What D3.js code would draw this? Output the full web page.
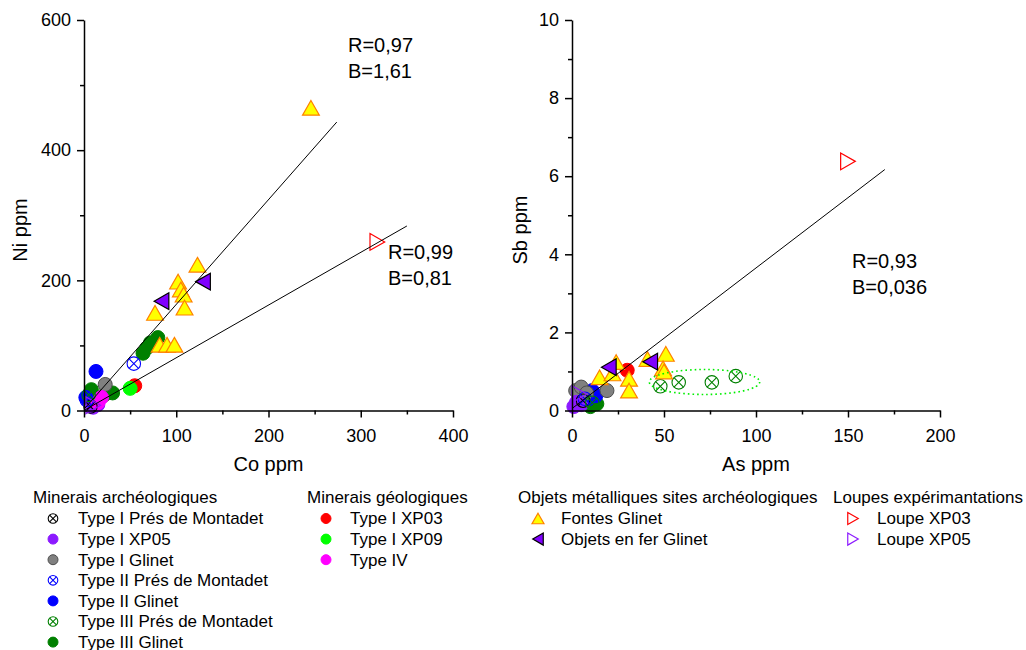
<!DOCTYPE html>
<html><head><meta charset="utf-8">
<script src="https://cdn.jsdelivr.net/npm/d3@7"></script>
<style>
body{margin:0;background:#fff}
text{font-family:"Liberation Sans",Arial,Helvetica,sans-serif;fill:#000}
</style>
</head><body>
<svg id="chart" width="1026" height="650"></svg>
<script>
// ---------------- DATA ----------------
// Axis ticks
const coTicks = [0, 100, 200, 300, 400];
const coMinor = [50, 150, 250, 350];
const niTicks = [0, 200, 400, 600];
const niMinor = [100, 300, 500];
const asTicks = [0, 50, 100, 150, 200];
const asMinor = [25, 75, 125, 175];
const sbTicks = [0, 2, 4, 6, 8, 10];
const sbMinor = [1, 3, 5, 7, 9];

// Series names
const seriesNames = ["Type I Prés de Montadet","Type I XP05","Type I Glinet","Type II Prés de Montadet",
  "Type II Glinet","Type III Prés de Montadet","Type III Glinet","Type I XP03","Type I XP09","Type IV",
  "Fontes Glinet","Objets en fer Glinet","Loupe XP03","Loupe XP05"];

// Legend groups
const legendTitles = ["Minerais archéologiques","Minerais géologiques","Objets métalliques sites archéologiques","Loupes expérimantations"];
const legendGroup1 = ["Type I Prés de Montadet","Type I XP05","Type I Glinet","Type II Prés de Montadet","Type II Glinet","Type III Prés de Montadet","Type III Glinet"];
const legendGroup2 = ["Type I XP03","Type I XP09","Type IV"];
const legendGroup3 = ["Fontes Glinet","Objets en fer Glinet"];
const legendGroup4 = ["Loupe XP03","Loupe XP05"];

// Co (x) vs Ni (y) values, per series
const typeIPresCoNi   = [[7, 6]];
const typeIXP05CoNi   = [[15, 9], [10, 5]];
const typeIGlinetCoNi = [[23, 40]];
const typeIIPresCoNi  = [[54, 72], [3, 16]];
const typeIIGlinetCoNi= [[13, 60], [2, 20]];
const typeIIIPresCoNi = [[5, 24]];
const typeIIIGlinetCoNi = [[80, 112], [72, 104], [68, 96], [64, 88], [8, 32], [31, 27], [22, 24]];
const typeIXP03CoNi   = [[55, 38]];
const typeIXP09CoNi   = [[50, 34]];
const typeIVCoNi      = [[19, 20], [15, 12]];
const fontesCoNi      = [[246, 465], [123, 224], [102, 198], [105, 186], [108, 178], [109, 158], [77, 150], [82, 101], [90, 101], [98, 101]];
const objetsCoNi      = [[129, 198], [84, 168]];
const loupeXP03CoNi   = [[318, 259]];
const loupeXP05CoNi   = [[10, 8]];

// As (x) vs Sb (y) values, per series
const typeIPresAsSb   = [[6, 0.25]];
const typeIXP05AsSb   = [[2.5, 0.21], [1, 0.1], [5, 0.15]];
const typeIGlinetAsSb = [[2, 0.51], [5, 0.6], [19, 0.51], [8, 0.45]];
const typeIIPresAsSb  = [[7, 0.3]];
const typeIIGlinetAsSb= [[11, 0.51], [13, 0.38], [9, 0.3]];
const typeIIIPresAsSb = [[48, 0.62], [58, 0.72], [76, 0.72], [89, 0.88], [11, 0.2]];
const typeIIIGlinetAsSb = [[13.5, 0.17], [10, 0.1]];
const typeIXP03AsSb   = [[30, 1.03]];
const typeIXP09AsSb   = [];
const typeIVAsSb      = [];
const fontesAsSb      = [[15, 0.85], [22, 0.95], [24, 1.24], [31, 0.81], [31, 0.51], [41, 1.32], [51, 1.45], [49.5, 1.08], [50, 1.0]];
const objetsAsSb      = [[20, 1.11], [42.5, 1.25]];
const loupeXP03AsSb   = [[150, 6.38]];
const loupeXP05AsSb   = [[4, 0.42]];

// Regression lines: [slope, intercept, xEnd]
const regCoNiSteep = [1.61, 2, 274];
const regCoNiFlat  = [0.81, 0, 350];
const regAsSb      = [0.036, 0.05, 170];
// Ellipse around Type III Prés de Montadet (As/Sb): [cx, cy, rx, ry]
const ellipseAsSb = [72, 0.73, 30, 0.32];

// Annotations
const annotCoNi = [["R=0,97","B=1,61"],["R=0,99","B=0,81"]];
const annotAsSb = [["R=0,93","B=0,036"]];

// ---------------- STYLES ----------------
const sty = {
  "Type I Prés de Montadet": {shape:"cross", stroke:"#000"},
  "Type I XP05": {shape:"circle", fill:"#8c1aff", stroke:"#8c1aff"},
  "Type I Glinet": {shape:"circle", fill:"#808080", stroke:"#4d4d4d"},
  "Type II Prés de Montadet": {shape:"cross", stroke:"#0000ff"},
  "Type II Glinet": {shape:"circle", fill:"#0000ff", stroke:"#0000ff"},
  "Type III Prés de Montadet": {shape:"cross", stroke:"#008000"},
  "Type III Glinet": {shape:"circle", fill:"#008000", stroke:"#008000"},
  "Type I XP03": {shape:"circle", fill:"#ff0000", stroke:"#ff0000"},
  "Type I XP09": {shape:"circle", fill:"#00ff00", stroke:"#00ff00"},
  "Type IV": {shape:"circle", fill:"#ff00ff", stroke:"#ff00ff"},
  "Fontes Glinet": {shape:"triup", fill:"#ffff00", stroke:"#ff8000"},
  "Objets en fer Glinet": {shape:"trileft", fill:"#8000ff", stroke:"#000"},
  "Loupe XP03": {shape:"triright", fill:"none", stroke:"#ff0000"},
  "Loupe XP05": {shape:"triright", fill:"none", stroke:"#8c1aff"}
};

const svg = d3.select("#chart");

function marker(g, name, x, y, s) {
  const st = sty[name];
  if (st.shape === "circle") {
    g.append("circle").attr("cx", x).attr("cy", y).attr("r", s * 0.5)
      .attr("fill", st.fill).attr("stroke", st.stroke).attr("stroke-width", 1);
  } else if (st.shape === "cross") {
    const r = s * 0.48, d = r * 0.7;
    g.append("circle").attr("cx", x).attr("cy", y).attr("r", r)
      .attr("fill", "none").attr("stroke", st.stroke).attr("stroke-width", 1.1);
    g.append("path").attr("d", `M${x-d},${y-d}L${x+d},${y+d}M${x-d},${y+d}L${x+d},${y-d}`)
      .attr("stroke", st.stroke).attr("stroke-width", 1.1);
  } else {
    const w = s * 1.2, h = s * 1.05;
    let p;
    if (st.shape === "triup") p = `M${x},${y-h/2}L${x+w/2},${y+h/2}L${x-w/2},${y+h/2}Z`;
    else if (st.shape === "trileft") p = `M${x-h/2},${y}L${x+h/2},${y-w/2}L${x+h/2},${y+w/2}Z`;
    else p = `M${x+h/2},${y}L${x-h/2},${y-w/2}L${x-h/2},${y+w/2}Z`;
    g.append("path").attr("d", p).attr("fill", st.fill).attr("stroke", st.stroke).attr("stroke-width", 1.2);
  }
}

function drawPanel(cfg) {
  const x = d3.scaleLinear().domain(cfg.xDom).range(cfg.xRange);
  const y = d3.scaleLinear().domain(cfg.yDom).range([410.5, 20]);
  const g = svg.append("g");

  const pts = g.append("g");
  const order = ["Type III Glinet","Type II Glinet","Type I Glinet","Type I XP05","Type IV","Type I XP03","Type I XP09",
    "Type I Prés de Montadet","Type II Prés de Montadet","Type III Prés de Montadet","Loupe XP05","Fontes Glinet","Objets en fer Glinet","Loupe XP03"];
  order.forEach(n => {
    (cfg.data[n] || []).forEach(d => marker(pts, n, x(d[0]), y(d[1]), 14));
  });

  // ellipse
  if (cfg.ellipse) {
    const e = cfg.ellipse;
    g.append("ellipse").attr("cx", x(e[0])).attr("cy", y(e[1]))
      .attr("rx", x(e[0] + e[2]) - x(e[0])).attr("ry", y(e[1]) - y(e[1] + e[3]))
      .attr("fill", "none").attr("stroke", "#00ee00").attr("stroke-width", 1.6)
      .attr("stroke-dasharray", "1.6,3");
  }

  // regression lines
  cfg.regs.forEach(r => {
    g.append("line").attr("x1", x(0)).attr("y1", y(r[1]))
      .attr("x2", x(r[2])).attr("y2", y(r[0] * r[2] + r[1]))
      .attr("stroke", "#000").attr("stroke-width", 1);
  });

  // axes
  const ax = g.append("g").attr("transform", "translate(0,410.5)")
    .call(d3.axisBottom(x).tickValues(cfg.xTicks).tickSize(7).tickSizeOuter(0).tickPadding(12).tickFormat(d3.format("d")));
  g.append("g").attr("transform", "translate(0,410.5)")
    .call(d3.axisBottom(x).tickValues(cfg.xMinor).tickSize(4).tickSizeOuter(0).tickFormat(""))
    .select(".domain").remove();
  const ay = g.append("g").attr("transform", `translate(${cfg.xRange[0]},0)`)
    .call(d3.axisLeft(y).tickValues(cfg.yTicks).tickSize(7).tickSizeOuter(0).tickPadding(6).tickFormat(d3.format("d")));
  g.append("g").attr("transform", `translate(${cfg.xRange[0]},0)`)
    .call(d3.axisLeft(y).tickValues(cfg.yMinor).tickSize(4).tickSizeOuter(0).tickFormat(""))
    .select(".domain").remove();
  g.selectAll(".domain, .tick line").attr("stroke", "#000").attr("stroke-width", 1.5);
  g.selectAll(".tick text").attr("font-size", 18).attr("font-family", "Liberation Sans, Arial, sans-serif").attr("fill", "#000");

  // titles
  g.append("text").attr("x", (cfg.xRange[0] + cfg.xRange[1]) / 2).attr("y", 471)
    .attr("text-anchor", "middle").attr("font-size", 20).text(cfg.xTitle);
  g.append("text").attr("transform", `translate(${cfg.yTitleX},230) rotate(-90)`)
    .attr("text-anchor", "middle").attr("font-size", 20).text(cfg.yTitle);

  // annotations
  cfg.annots.forEach((a, i) => {
    const p = cfg.annotPos[i];
    g.append("text").attr("x", p[0]).attr("y", p[1]).attr("font-size", 20).text(a[0]);
    g.append("text").attr("x", p[0]).attr("y", p[1] + 26).attr("font-size", 20).text(a[1]);
  });
}

drawPanel({
  xDom: [0, 400], xRange: [84, 453], yDom: [0, 600],
  xTicks: coTicks, xMinor: coMinor, yTicks: niTicks, yMinor: niMinor,
  xTitle: "Co ppm", yTitle: "Ni ppm", yTitleX: 27,
  regs: [regCoNiSteep, regCoNiFlat],
  annots: annotCoNi, annotPos: [[348, 52], [388, 259]],
  data: {
    "Type I Prés de Montadet": typeIPresCoNi, "Type I XP05": typeIXP05CoNi, "Type I Glinet": typeIGlinetCoNi,
    "Type II Prés de Montadet": typeIIPresCoNi, "Type II Glinet": typeIIGlinetCoNi,
    "Type III Prés de Montadet": typeIIIPresCoNi, "Type III Glinet": typeIIIGlinetCoNi,
    "Type I XP03": typeIXP03CoNi, "Type I XP09": typeIXP09CoNi, "Type IV": typeIVCoNi,
    "Fontes Glinet": fontesCoNi, "Objets en fer Glinet": objetsCoNi,
    "Loupe XP03": loupeXP03CoNi, "Loupe XP05": loupeXP05CoNi
  }
});

drawPanel({
  xDom: [0, 200], xRange: [572, 940], yDom: [0, 10],
  xTicks: asTicks, xMinor: asMinor, yTicks: sbTicks, yMinor: sbMinor,
  xTitle: "As ppm", yTitle: "Sb ppm", yTitleX: 527,
  regs: [regAsSb], ellipse: ellipseAsSb,
  annots: annotAsSb, annotPos: [[852, 268]],
  data: {
    "Type I Prés de Montadet": typeIPresAsSb, "Type I XP05": typeIXP05AsSb, "Type I Glinet": typeIGlinetAsSb,
    "Type II Prés de Montadet": typeIIPresAsSb, "Type II Glinet": typeIIGlinetAsSb,
    "Type III Prés de Montadet": typeIIIPresAsSb, "Type III Glinet": typeIIIGlinetAsSb,
    "Type I XP03": typeIXP03AsSb, "Type I XP09": typeIXP09AsSb, "Type IV": typeIVAsSb,
    "Fontes Glinet": fontesAsSb, "Objets en fer Glinet": objetsAsSb,
    "Loupe XP03": loupeXP03AsSb, "Loupe XP05": loupeXP05AsSb
  }
});

// ---------------- LEGEND ----------------
const leg = svg.append("g");
const legendCols = [
  {title: legendTitles[0], items: legendGroup1, tx: 33, mx: 53, ix: 78},
  {title: legendTitles[1], items: legendGroup2, tx: 307, mx: 326, ix: 350},
  {title: legendTitles[2], items: legendGroup3, tx: 518, mx: 538, ix: 561},
  {title: legendTitles[3], items: legendGroup4, tx: 833, mx: 853, ix: 877}
];
legendCols.forEach(c => {
  leg.append("text").attr("x", c.tx).attr("y", 497).attr("dy", "0.35em").attr("font-size", 17).text(c.title);
  c.items.forEach((n, i) => {
    const yy = 518.5 + i * 20.6;
    marker(leg, n, c.mx, yy, 10);
    leg.append("text").attr("x", c.ix).attr("y", yy).attr("dy", "0.35em").attr("font-size", 17).text(n);
  });
});
</script>
</body></html>
